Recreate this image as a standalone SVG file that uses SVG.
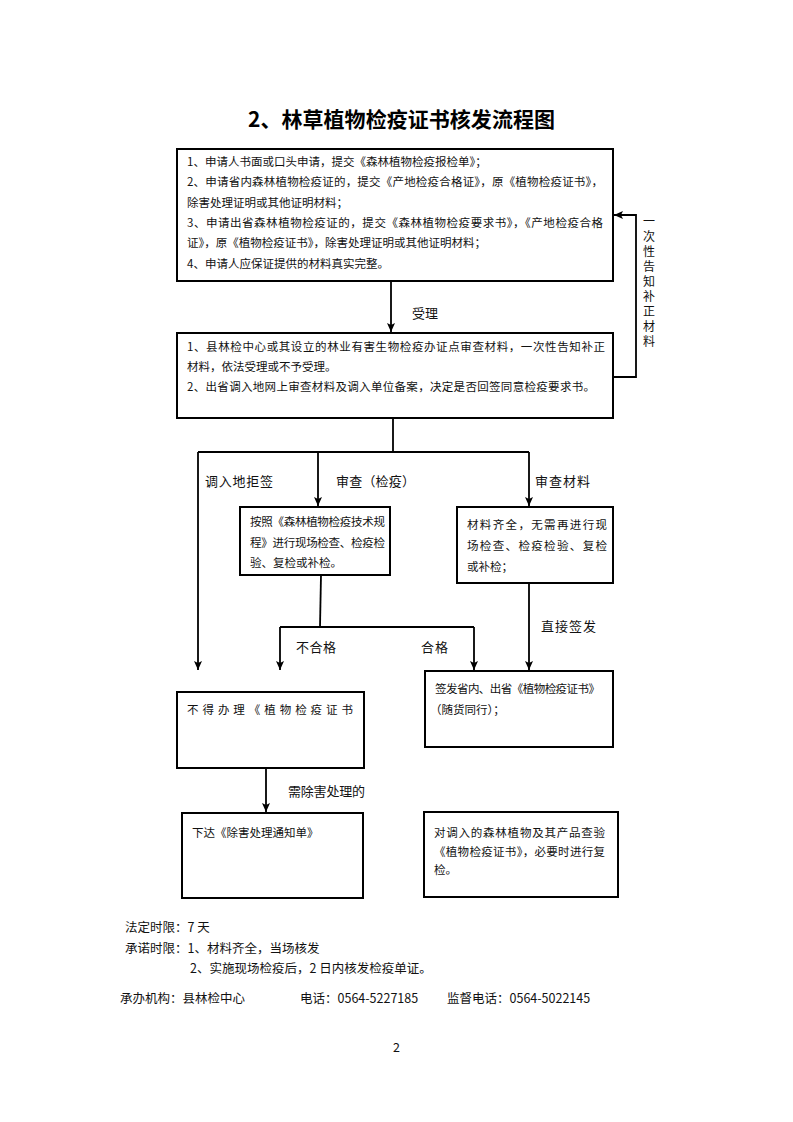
<svg xmlns="http://www.w3.org/2000/svg" width="793" height="1122" viewBox="0 0 793 1122">
<defs>
<style>
.bx{fill:#fff;stroke:#000;stroke-width:2}
.ln{fill:none;stroke:#000;stroke-width:1.8}
.t{font-family:"Noto Sans CJK SC","Liberation Sans",sans-serif;font-size:11.5px;fill:#111}
.lb{font-family:"Noto Sans CJK SC","Liberation Sans",sans-serif;font-size:13px;fill:#111}
.vt{font-family:"Noto Sans CJK SC","Liberation Sans",sans-serif;font-size:12px;fill:#111}
.ft{font-family:"Noto Sans CJK SC","Liberation Sans",sans-serif;font-size:12.5px;fill:#111}
.ti{font-family:"Noto Sans CJK SC","Liberation Sans",sans-serif;font-size:21px;font-weight:bold;fill:#000}
</style>
<marker id="ar" markerWidth="10" markerHeight="10" refX="9" refY="5" orient="auto" markerUnits="userSpaceOnUse">
<path d="M0,1 L9,5 L0,9 L2,5 Z" fill="#000"/>
</marker>
</defs>
<rect width="793" height="1122" fill="#fff"/>
<text class="ti" x="248" y="127" textLength="307">2、林草植物检疫证书核发流程图</text>

<g id="connectors">
<line class="ln" x1="391" y1="281" x2="391" y2="332" marker-end="url(#ar)"/>
<polyline class="ln" points="613,377 636,377 636,215 614,215" marker-end="url(#ar)"/>
<line class="ln" x1="393" y1="418" x2="393" y2="452"/>
<line class="ln" x1="198" y1="452" x2="529" y2="452"/>
<line class="ln" x1="198" y1="452" x2="198" y2="670" marker-end="url(#ar)"/>
<line class="ln" x1="318" y1="452" x2="318" y2="506" marker-end="url(#ar)"/>
<line class="ln" x1="529" y1="452" x2="529" y2="506" marker-end="url(#ar)"/>
<line class="ln" x1="321" y1="575" x2="320" y2="627"/>
<line class="ln" x1="280" y1="627" x2="474" y2="627"/>
<line class="ln" x1="280" y1="627" x2="280" y2="670" marker-end="url(#ar)"/>
<line class="ln" x1="474" y1="627" x2="474" y2="670" marker-end="url(#ar)"/>
<line class="ln" x1="529" y1="583" x2="529" y2="670" marker-end="url(#ar)"/>
<line class="ln" x1="266" y1="768" x2="266" y2="812" marker-end="url(#ar)"/>
<text class="lb" x="412" y="318">受理</text>
<text class="vt" x="643" y="226">一</text>
<text class="vt" x="643" y="241">次</text>
<text class="vt" x="643" y="256">性</text>
<text class="vt" x="643" y="271">告</text>
<text class="vt" x="643" y="286">知</text>
<text class="vt" x="643" y="301">补</text>
<text class="vt" x="643" y="316">正</text>
<text class="vt" x="643" y="331">材</text>
<text class="vt" x="643" y="346">料</text>
<text class="lb" x="205" y="486" textLength="68">调入地拒签</text>
<text class="lb" x="336" y="486" textLength="79">审查（检疫）</text>
<text class="lb" x="535" y="486" textLength="55">审查材料</text>
<text class="lb" x="296" y="652" textLength="40">不合格</text>
<text class="lb" x="421" y="652" textLength="27">合格</text>
<text class="lb" x="541" y="631" textLength="55">直接签发</text>
<text class="lb" x="288" y="796" textLength="77">需除害处理的</text>
</g>

<g id="n1">
<rect class="bx" x="177" y="149" width="436" height="132"/>
<text class="t" x="187" y="166">1、申请人书面或口头申请，提交《森林植物检疫报检单》；</text>
<text class="t" x="187" y="186" textLength="416">2、申请省内森林植物检疫证的，提交《产地检疫合格证》，原《植物检疫证书》，</text>
<text class="t" x="187" y="207">除害处理证明或其他证明材料；</text>
<text class="t" x="187" y="227" textLength="416">3、申请出省森林植物检疫证的，提交《森林植物检疫要求书》，《产地检疫合格</text>
<text class="t" x="187" y="247">证》，原《植物检疫证书》，除害处理证明或其他证明材料；</text>
<text class="t" x="187" y="268">4、申请人应保证提供的材料真实完整。</text>
</g>

<g id="n2">
<rect class="bx" x="177" y="333" width="436" height="85"/>
<text class="t" x="187" y="351" textLength="418">1、县林检中心或其设立的林业有害生物检疫办证点审查材料，一次性告知补正</text>
<text class="t" x="187" y="371">材料，依法受理或不予受理。</text>
<text class="t" x="187" y="391" textLength="408">2、出省调入地网上审查材料及调入单位备案，决定是否回签同意检疫要求书。</text>
</g>

<g id="n3">
<rect class="bx" x="240" y="507" width="150" height="68"/>
<text class="t" x="250" y="526" textLength="135">按照《森林植物检疫技术规</text>
<text class="t" x="250" y="547" textLength="135">程》进行现场检查、检疫检</text>
<text class="t" x="250" y="567">验、复检或补检。</text>
</g>

<g id="n4">
<rect class="bx" x="457" y="507" width="156" height="76"/>
<text class="t" x="467" y="529" textLength="140">材料齐全，无需再进行现</text>
<text class="t" x="467" y="550" textLength="140">场检查、检疫检验、复检</text>
<text class="t" x="467" y="571">或补检；</text>
</g>

<g id="n5">
<rect class="bx" x="425" y="671" width="188" height="76"/>
<text class="t" x="435" y="693" textLength="165">签发省内、出省《植物检疫证书》</text>
<text class="t" x="430" y="714">（随货同行）；</text>
</g>

<g id="n6">
<rect class="bx" x="177" y="692" width="187" height="76"/>
<text class="t" x="187" y="714" textLength="166">不得办理《植物检疫证书</text>
</g>

<g id="n7">
<rect class="bx" x="182" y="813" width="181" height="85"/>
<text class="t" x="192" y="837">下达《除害处理通知单》</text>
</g>

<g id="n8">
<rect class="bx" x="424" y="812" width="194" height="85"/>
<text class="t" x="434" y="837" textLength="171">对调入的森林植物及其产品查验</text>
<text class="t" x="434" y="856" textLength="171">《植物检疫证书》，必要时进行复</text>
<text class="t" x="434" y="874">检。</text>
</g>

<g id="footer">
<text class="ft" x="125" y="932">法定时限：7 天</text>
<text class="ft" x="125" y="953">承诺时限：1、材料齐全，当场核发</text>
<text class="ft" x="190" y="973">2、实施现场检疫后，2 日内核发检疫单证。</text>
<text class="ft" x="120" y="1003">承办机构：县林检中心</text>
<text class="ft" x="300" y="1003">电话：0564-5227185</text>
<text class="ft" x="447" y="1003">监督电话：0564-5022145</text>
<text class="ft" x="393" y="1052">2</text>
</g>
</svg>
